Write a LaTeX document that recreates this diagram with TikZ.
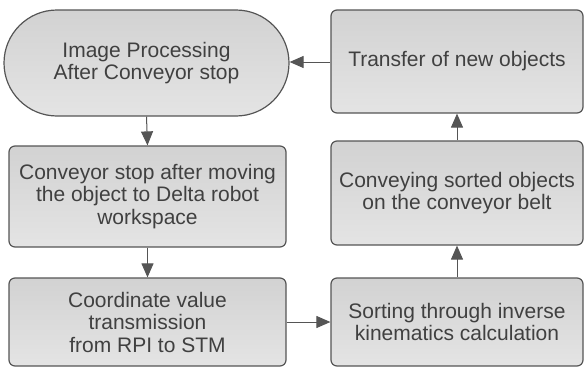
\documentclass[tikz,border=0pt]{standalone}
\usepackage{fontspec}
\setmainfont{Liberation Sans}
\usetikzlibrary{arrows.meta,shapes.misc}
\definecolor{edgegray}{HTML}{555555}
\definecolor{txtgray}{HTML}{404040}
\definecolor{filltop}{HTML}{D2D2D2}
\definecolor{fillbot}{HTML}{E4E4E4}
\tikzset{
  box/.style={draw=edgegray, line width=1.2pt, rounded corners=6pt,
    top color=filltop, bottom color=fillbot, text=txtgray,
    align=center, font=\fontsize{21}{22.5}\selectfont, inner sep=0pt},
  term/.style={box, rounded corners=0pt, rounded rectangle},
  conn/.style={draw=edgegray, line width=1pt,
    -{Triangle[length=14pt,width=12pt]}}
}
\begin{document}
\begin{tikzpicture}[x=1pt,y=1pt]
\useasboundingbox (0,0) rectangle (586,368);
\node[term, minimum width=285pt, minimum height=106pt] (ip) at (146.5,305) {Image Processing\\After Conveyor stop};
\node[box, minimum width=252pt, minimum height=103pt] (tr) at (457,306.5) {Transfer of new objects};
\node[box, minimum width=252pt, minimum height=104pt] (cv) at (457,175) {Conveying sorted objects\\on the conveyor belt};
\node[box, minimum width=252pt, minimum height=88pt] (so) at (457,46) {Sorting through inverse\\kinematics calculation};
\node[box, minimum width=277pt, minimum height=101pt] (cs) at (147.5,171.5) {Conveyor stop after moving\\the object to Delta robot\\workspace};
\node[box, minimum width=277pt, minimum height=88pt] (co) at (147.5,46) {Coordinate value\\transmission\\ from RPI to STM};
\draw[conn] (ip.south) -- (cs.north);
\draw[conn] (cs.south) -- (co.north);
\draw[conn] (co.east) -- (so.west);
\draw[conn] (so.north) -- (cv.south);
\draw[conn] (cv.north) -- (tr.south);
\draw[conn] (tr.west |- 0,306) -- (ip.east |- 0,306);
\end{tikzpicture}
\end{document}
